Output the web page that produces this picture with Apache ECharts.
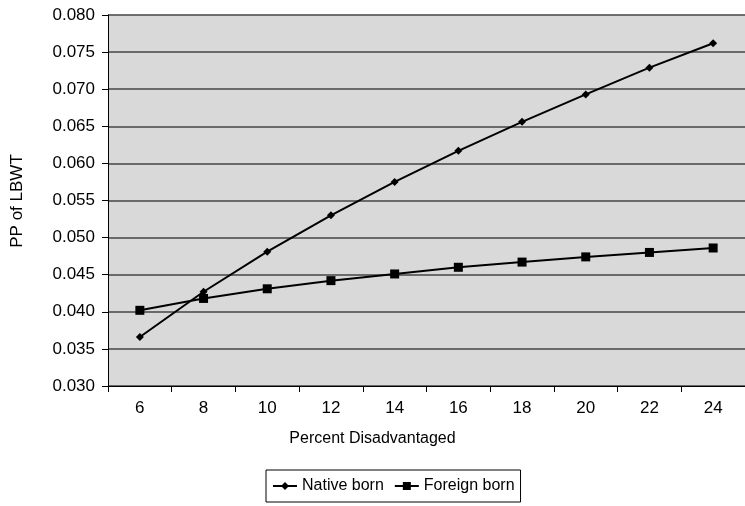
<!DOCTYPE html>
<html>
<head>
<meta charset="utf-8">
<script src="https://cdn.jsdelivr.net/npm/echarts@6/dist/echarts.min.js"></script>
<style>
  html, body { margin: 0; padding: 0; background: #fff; }
  #chart { width: 745px; height: 506px; }
</style>
</head>
<body>
<div id="chart"></div>
<script>
var categories = ['6', '8', '10', '12', '14', '16', '18', '20', '22', '24'];
var nativeBorn = [0.0366, 0.0427, 0.0481, 0.0530, 0.0575, 0.0617, 0.0656, 0.0693, 0.0729, 0.0762];
var foreignBorn = [0.0402, 0.0418, 0.0431, 0.0442, 0.0451, 0.0460, 0.0467, 0.0474, 0.0480, 0.0486];

var font = '"Liberation Sans", Arial, sans-serif';
var chart = echarts.init(document.getElementById('chart'), null, { renderer: 'canvas' });
chart.setOption({
  animation: false,
  textStyle: { fontFamily: font },
  grid: { left: 108, right: -7, top: 15, bottom: 120, containLabel: false },
  xAxis: {
    type: 'category',
    data: categories,
    boundaryGap: true,
    axisLine: { lineStyle: { color: '#000', width: 1 } },
    axisTick: { show: true, length: 6, lineStyle: { color: '#000' } },
    axisLabel: { color: '#000', fontSize: 17, fontFamily: font, margin: 14 },
    splitLine: { show: false }
  },
  yAxis: {
    type: 'value',
    min: 0.030, max: 0.080, interval: 0.005,
    axisLine: { show: true, lineStyle: { color: '#000', width: 1 } },
    axisTick: { show: true, length: 6, lineStyle: { color: '#000' } },
    axisLabel: {
      color: '#000', fontSize: 17, fontFamily: font, margin: 13,
      formatter: function(v) { return v.toFixed(3); }
    },
    splitLine: { lineStyle: { color: '#444', width: 1.5 } },
    splitArea: { show: true, areaStyle: { color: ['#d9d9d9', '#d9d9d9'] } }
  },
  graphic: [
    { type: 'text', left: 'center', top: 431, style: { text: 'Percent Disadvantaged', font: '16px ' + font, fill: '#000' } },
    { type: 'text', x: 9, y: 201, rotation: Math.PI / 2, style: { text: 'PP of LBWT', font: '17px ' + font, fill: '#000', align: 'center', verticalAlign: 'top' } }
  ],
  legend: {
    left: 266, top: 470,
    itemWidth: 24, itemHeight: 10, itemGap: 10,
    padding: [8, 6, 8, 6],
    borderColor: '#000', borderWidth: 1,
    textStyle: { color: '#000', fontSize: 16, fontFamily: font },
    data: ['Native born', 'Foreign born']
  },
  series: [
    {
      name: 'Native born', type: 'line', data: nativeBorn,
      symbol: 'diamond', symbolSize: 8,
      lineStyle: { color: '#000', width: 2 },
      itemStyle: { color: '#000' }
    },
    {
      name: 'Foreign born', type: 'line', data: foreignBorn,
      symbol: 'rect', symbolSize: 9,
      lineStyle: { color: '#000', width: 2 },
      itemStyle: { color: '#000' }
    }
  ]
});
</script>
</body>
</html>
